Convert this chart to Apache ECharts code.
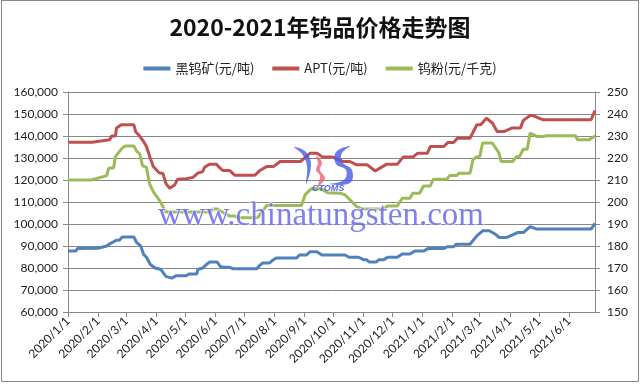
<!DOCTYPE html>
<html><head><meta charset="utf-8">
<script src="https://cdn.jsdelivr.net/npm/echarts@6/dist/echarts.min.js"></script>
<style>html,body{margin:0;padding:0;background:#fff}#c{width:640px;height:384px}</style>
</head><body><div id="c"></div>
<script>
// ---- Data ----
const title = '2020-2021年钨品价格走势图';
const seriesNames = ['黑钨矿(元/吨)', 'APT(元/吨)', '钨粉(元/千克)'];

const oreDates = ['2020-01-01','2020-01-09','2020-01-11','2020-02-01','2020-02-10','2020-02-13','2020-02-20','2020-02-23','2020-02-26','2020-03-09','2020-03-12','2020-03-16','2020-03-19','2020-03-22','2020-03-26','2020-03-31','2020-04-06','2020-04-11','2020-04-17','2020-04-22','2020-05-02','2020-05-05','2020-05-13','2020-05-14','2020-05-19','2020-05-23','2020-05-26','2020-06-03','2020-06-06','2020-06-09','2020-06-16','2020-06-19','2020-07-14','2020-07-17','2020-07-20','2020-07-27','2020-07-30','2020-08-03','2020-08-24','2020-08-27','2020-09-03','2020-09-07','2020-09-14','2020-09-19','2020-10-13','2020-10-17','2020-10-27','2020-11-01','2020-11-04','2020-11-07','2020-11-14','2020-11-17','2020-11-22','2020-11-26','2020-12-06','2020-12-11','2020-12-19','2020-12-24','2021-01-02','2021-01-07','2021-01-23','2021-01-27','2021-02-02','2021-02-05','2021-02-19','2021-02-26','2021-03-04','2021-03-11','2021-03-18','2021-03-21','2021-03-29','2021-04-04','2021-04-09','2021-04-15','2021-04-22','2021-04-29','2021-06-24','2021-06-28'];
const oreValues = [87700,87700,88900,89000,90000,91000,92600,92600,94100,94100,91500,90000,86200,84900,81600,80000,79300,76200,75400,76500,76500,77300,77300,79300,80000,81600,82700,82700,80800,80300,80300,79700,79700,81200,82300,82300,83400,84600,84600,85900,85900,87400,87400,85900,85900,84900,84900,83800,83800,82700,82700,83800,83800,84900,84900,86400,86400,87700,87700,88900,88900,89700,89700,90800,90800,94600,96900,96900,95100,93900,93900,95100,96100,96100,98800,97700,97700,100300];

const aptDates = ['2020-01-01','2020-01-26','2020-02-13','2020-02-15','2020-02-19','2020-02-20','2020-02-25','2020-03-09','2020-03-11','2020-03-14','2020-03-19','2020-03-22','2020-03-26','2020-03-29','2020-04-04','2020-04-08','2020-04-11','2020-04-15','2020-04-20','2020-04-23','2020-05-02','2020-05-09','2020-05-14','2020-05-19','2020-05-21','2020-05-26','2020-06-02','2020-06-06','2020-06-09','2020-06-16','2020-06-21','2020-07-12','2020-07-17','2020-07-24','2020-07-31','2020-08-07','2020-08-28','2020-08-31','2020-09-07','2020-09-14','2020-09-20','2020-09-30','2020-10-08','2020-10-11','2020-10-18','2020-10-25','2020-11-05','2020-11-13','2020-11-18','2020-11-25','2020-12-06','2020-12-12','2020-12-22','2020-12-27','2021-01-06','2021-01-09','2021-01-23','2021-01-27','2021-02-02','2021-02-06','2021-02-19','2021-02-26','2021-03-02','2021-03-08','2021-03-14','2021-03-19','2021-03-26','2021-03-28','2021-04-03','2021-04-12','2021-04-15','2021-04-22','2021-04-25','2021-05-05','2021-06-24','2021-06-28'];
const aptValues = [137200,137200,138300,140000,140000,143600,145100,145100,141800,140500,137500,135200,129900,126100,123300,123000,118500,116200,117700,120300,120600,121200,123100,123800,125800,127200,127200,125400,124300,124300,122200,122200,124300,126100,126100,128400,128400,129500,132200,132200,130400,130400,129000,128400,128400,126900,126900,124100,125400,127200,127200,130400,130400,132200,132200,135200,135200,137000,137000,139000,139000,145100,145100,148100,145900,142000,142000,141300,143600,143600,147100,149300,149300,147400,147400,151600];

const powderDates = ['2020-01-01','2020-01-25','2020-02-10','2020-02-12','2020-02-17','2020-02-19','2020-02-23','2020-02-26','2020-02-29','2020-03-09','2020-03-12','2020-03-15','2020-03-18','2020-03-22','2020-03-25','2020-03-29','2020-04-04','2020-04-08','2020-04-11','2020-05-27','2020-05-30','2020-06-03','2020-06-11','2020-06-16','2020-06-21','2020-06-26','2020-07-11','2020-07-15','2020-07-24','2020-08-29','2020-09-02','2020-09-08','2020-09-18','2020-09-25','2020-10-08','2020-10-13','2020-10-18','2020-10-25','2020-11-01','2020-11-21','2020-11-26','2020-12-06','2020-12-11','2020-12-19','2020-12-22','2020-12-29','2021-01-02','2021-01-09','2021-01-12','2021-01-26','2021-01-29','2021-02-05','2021-02-08','2021-02-19','2021-02-22','2021-02-26','2021-03-01','2021-03-04','2021-03-14','2021-03-21','2021-03-23','2021-04-04','2021-04-08','2021-04-11','2021-04-15','2021-04-19','2021-04-22','2021-04-29','2021-05-05','2021-05-09','2021-06-08','2021-06-10','2021-06-22','2021-06-28'];
const powderValues = [210,210,212,215.4,215.4,220.6,222.9,224.5,225.5,225.5,223,222,216.4,215.8,208.5,204.7,201,197.9,195.5,195.5,196.8,196.8,194.8,193.6,193.6,192.8,192.8,193,198.4,198.4,203.5,206,206,204.2,204,203.2,201,197.9,196.8,196.8,198.2,198.2,201.7,201.7,204,204,207.3,207.3,210.3,210.3,212,212,213.1,213.1,219.1,220.6,220.6,226.8,226.8,222.2,218.4,218.4,220.6,220.6,224,224,231.3,229.8,229.8,230.1,230.1,228.3,228.3,230];

const xMin = '2020-01-01', xMax = '2021-06-28';
const leftAxis = {min: 60000, max: 160000, interval: 10000};
const rightAxis = {min: 150, max: 250, interval: 10};
const colors = ['#4F81BD', '#C0504D', '#9BBB59'];

// ---- Chart ----
const pair = (ds, vs) => ds.map((d, i) => [d, vs[i]]);
const chart = echarts.init(document.getElementById('c'), null, {renderer: 'canvas'});
const axisGray = '#878787';
const lblFont = 'Lato, "Liberation Sans", sans-serif';
const DAY = 86400000;

chart.setOption({
  animation: false,
  color: colors,
  title: {
    text: title, left: 'center', top: 11,
    textStyle: {fontSize: 23, fontWeight: 'bold', color: '#111', fontFamily: '"Noto Sans CJK SC", sans-serif'}
  },
  legend: {
    top: 57, left: 'center', itemWidth: 27, itemHeight: 4, itemGap: 18, icon: 'rect',
    textStyle: {fontSize: 13, color: '#222', fontFamily: '"Noto Sans CJK SC", sans-serif'},
    data: seriesNames
  },
  grid: {left: 68, right: 45, top: 92, bottom: 72, containLabel: false},
  xAxis: {
    type: 'time', min: xMin, max: xMax, splitNumber: 18,
    minInterval: 28 * DAY, maxInterval: 31 * DAY,
    axisLine: {lineStyle: {color: axisGray}},
    axisTick: {show: true, length: 5, lineStyle: {color: axisGray}},
    splitLine: {show: false},
    axisLabel: {
      rotate: 45, fontSize: 12, color: '#222', margin: 7, fontFamily: lblFont,
      showMaxLabel: false,
      formatter: function (v) {
        const d = new Date(v);
        if (d.getDate() !== 1) return '';
        return d.getFullYear() + '/' + (d.getMonth() + 1) + '/' + d.getDate();
      }
    }
  },
  yAxis: [{
    type: 'value', min: leftAxis.min, max: leftAxis.max, interval: leftAxis.interval,
    axisLine: {show: true, lineStyle: {color: axisGray}},
    axisTick: {show: true, length: 5, lineStyle: {color: axisGray}},
    splitLine: {lineStyle: {color: axisGray, width: 1}},
    axisLabel: {fontSize: 12, color: '#222', margin: 10, fontFamily: lblFont,
      formatter: v => v.toLocaleString('en-US')}
  }, {
    type: 'value', min: rightAxis.min, max: rightAxis.max, interval: rightAxis.interval,
    axisLine: {show: true, lineStyle: {color: axisGray}},
    axisTick: {show: true, length: 5, lineStyle: {color: axisGray}},
    splitLine: {show: false},
    axisLabel: {fontSize: 12, color: '#222', margin: 12, fontFamily: lblFont}
  }],
  series: [
    {name: seriesNames[0], type: 'line', yAxisIndex: 0, data: pair(oreDates, oreValues), showSymbol: false, symbol: 'none', lineStyle: {width: 3}},
    {name: seriesNames[1], type: 'line', yAxisIndex: 0, data: pair(aptDates, aptValues), showSymbol: false, symbol: 'none', lineStyle: {width: 3}},
    {name: seriesNames[2], type: 'line', yAxisIndex: 1, data: pair(powderDates, powderValues), showSymbol: false, symbol: 'none', lineStyle: {width: 3}}
  ],
  graphic: [
    {type: 'rect', z: 0, silent: true, shape: {x: 1.5, y: 0.5, width: 637, height: 381}, style: {fill: 'none', stroke: '#878787', lineWidth: 1}},
    {type: 'polygon', z: 100, silent: true, shape: {points: [[294,147],[306,152],[311,165],[306,184],[307,166],[302,154]], smooth: 0.4}, style: {fill: 'rgba(70,90,230,0.8)'}},
    {type: 'polygon', z: 100, silent: true, shape: {points: [[316,156],[322,162],[320,170],[325,178],[318,186],[320,176],[316,170],[318,163]], smooth: 0.4}, style: {fill: 'rgba(235,90,110,0.75)'}},
    {type: 'polygon', z: 100, silent: true, shape: {points: [[350,146],[336,152],[336,164],[346,170],[344,180],[330,184],[350,183],[352,170],[342,162],[342,153]], smooth: 0.4}, style: {fill: 'rgba(70,90,230,0.8)'}},
    {type: 'text', z: 100, silent: true, left: 312, top: 184, style: {text: 'CTOMS', fontSize: 9, fontStyle: 'italic', fontWeight: 'bold', fill: 'rgba(60,80,220,0.85)', fontFamily: '"Liberation Sans", sans-serif'}},
    {type: 'text', z: 100, silent: true, left: 157, top: 199, style: {text: 'www.chinatungsten.com', fontSize: 33, fill: 'rgba(95,95,235,0.8)', fontFamily: '"Liberation Serif", serif', stroke: 'rgba(255,255,255,0.6)', lineWidth: 2}}
  ]
});
</script></body></html>
